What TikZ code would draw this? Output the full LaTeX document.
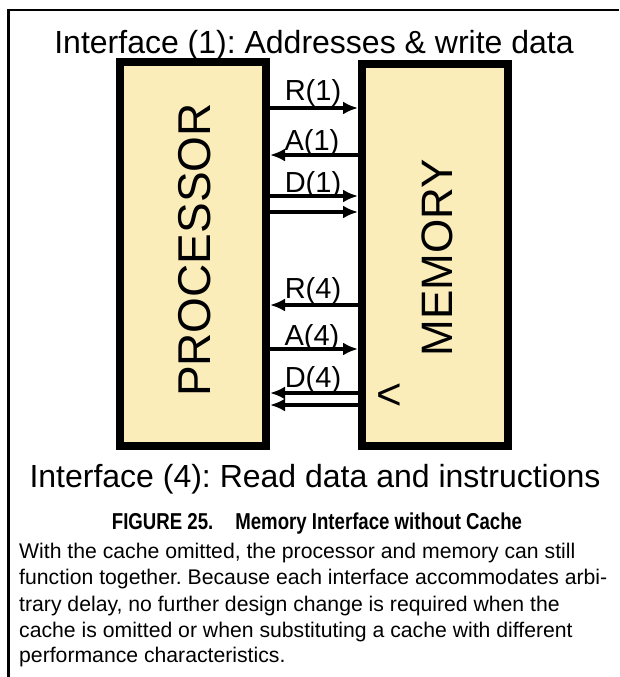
\documentclass[tikz,border=0pt]{standalone}
\usepackage{fontspec}
\setmainfont{Liberation Sans}
\usetikzlibrary{arrows.meta}
\definecolor{cream}{HTML}{FAEDBA}
\frenchspacing
\begin{document}
\begin{tikzpicture}[x=1pt,y=-1pt,
  box/.style={draw=black, line width=8pt, fill=cream, minimum width=146pt, inner sep=0pt},
  arr/.style={line width=4.5pt, -{Latex[length=15pt,width=13pt]}},
  sig/.style={font=\fontsize{29}{29}\selectfont, inner sep=0pt, anchor=base},
  ttl/.style={font=\fontsize{32}{32}\selectfont, inner sep=0pt, anchor=base},
  body/.style={font=\fontsize{21.2}{21.2}\selectfont, inner sep=0pt, anchor=base west},
]
\useasboundingbox (0,0) rectangle (619,677);
\fill[white] (0,0) rectangle (619,677);
\draw[line width=2.5pt] (619,10) -- (8.5,10) -- (8.5,677);

% boxes
\node[box, minimum height=384pt] (proc) at (193,254) {};
\node[box, minimum height=382pt] (mem) at (435,255) {};
\node[font=\fontsize{46}{46}\selectfont, rotate=90, inner sep=0pt] (proctxt) at (195,250) {PROCESSOR};
\node[font=\fontsize{44}{44}\selectfont, rotate=90, inner sep=0pt] (memtxt) at (437,258) {MEMORY};
\node[font=\fontsize{44}{44}\selectfont, inner sep=0pt] (lt) at (389,397) {<};

% signal heights
\path (0,108) coordinate (yR1) (0,155) coordinate (yA1)
      (0,196) coordinate (yD1a) (0,212) coordinate (yD1b)
      (0,305) coordinate (yR4) (0,349) coordinate (yA4)
      (0,393) coordinate (yD4a) (0,405) coordinate (yD4b);

\draw[arr] (proc.east |- yR1) -- (mem.west |- yR1);
\draw[arr] (mem.west |- yA1) -- (proc.east |- yA1);
\draw[arr] (proc.east |- yD1a) -- (mem.west |- yD1a);
\draw[arr] (proc.east |- yD1b) -- (mem.west |- yD1b);
\draw[arr] (mem.west |- yR4) -- (proc.east |- yR4);
\draw[arr] (proc.east |- yA4) -- (mem.west |- yA4);
\draw[arr] (mem.west |- yD4a) -- (proc.east |- yD4a);
\draw[arr] (mem.west |- yD4b) -- (proc.east |- yD4b);

\node[sig] (lR1) at (313,100) {R(1)};
\node[sig] (lA1) at (312,150) {A(1)};
\node[sig] (lD1) at (313,192) {D(1)};
\node[sig] (lR4) at (313,298) {R(4)};
\node[sig] (lA4) at (312,345) {A(4)};
\node[sig] (lD4) at (313,387) {D(4)};

% titles
\node[ttl] (t1) at (314,54) {Interface (1): Addresses \& write data};
\node[ttl] (t4) at (315,487) {Interface (4): Read data and instructions};

% caption
\node[inner sep=0pt, anchor=base] (cap) at (317,529)
  {\scalebox{0.81}[1]{\fontsize{23}{23}\selectfont\bfseries FIGURE 25.\hspace{0.9em} Memory Interface without Cache}};
\node[body] (b1) at (19,558) {With the cache omitted, the processor and memory can still};
\node[body] (b2) at (19,584.5) {function together. Because each interface accommodates arbi-};
\node[body] (b3) at (19,611) {trary delay, no further design change is required when the};
\node[body] (b4) at (19,637) {cache is omitted or when substituting a cache with different};
\node[body] (b5) at (19,662) {performance characteristics.};
\end{tikzpicture}
\end{document}
